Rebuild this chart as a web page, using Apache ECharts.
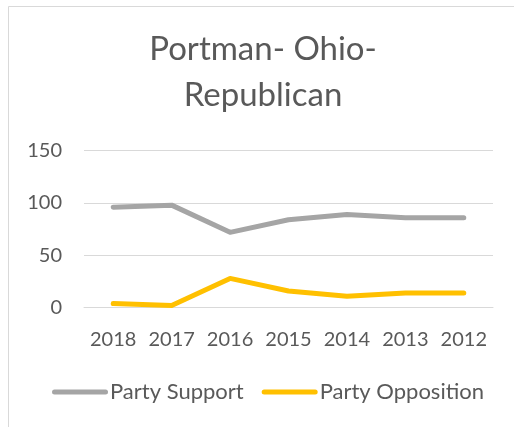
<!DOCTYPE html>
<html>
<head>
<meta charset="utf-8">
<script src="https://cdn.jsdelivr.net/npm/echarts@6/dist/echarts.min.js"></script>
<style>
  html, body { margin: 0; padding: 0; background: #fff; }
  #chart { width: 514px; height: 427px; }
</style>
</head>
<body>
<div id="chart"></div>
<script>
// Vote counts per year
const years = ['2018', '2017', '2016', '2015', '2014', '2013', '2012'];
const partySupport = [96, 98, 72, 84, 89, 86, 86];
const partyOpposition = [4, 2, 28, 16, 11, 14, 14];
const yTicks = { min: 0, max: 150, interval: 50 };

const textColor = '#595959';
const fontFamily = 'Lato, "Open Sans", sans-serif';

const chart = echarts.init(document.getElementById('chart'), null, { renderer: 'canvas' });

// rounded bar used as the legend swatch
const legendIcon = 'path://M2.5,0 H53.5 A2.5,2.5 0 0 1 53.5,5 H2.5 A2.5,2.5 0 0 1 2.5,0 Z';

chart.setOption({
  animation: false,
  backgroundColor: '#ffffff',
  graphic: [{
    type: 'rect',
    shape: { x: 8.5, y: 6.5, width: 1000, height: 1000 },
    style: { fill: 'none', stroke: '#D9D9D9', lineWidth: 1 },
    silent: true
  }],
  title: {
    text: 'Portman- Ohio-\nRepublican',
    left: 263,
    textAlign: 'center',
    top: 26,
    padding: 0,
    textStyle: {
      color: textColor,
      fontFamily: fontFamily,
      fontSize: 33,
      fontWeight: 'normal',
      lineHeight: 46
    }
  },
  legend: {
    top: 381,
    left: 52,
    padding: 0,
    itemWidth: 56,
    itemHeight: 5,
    itemGap: 18,
    textStyle: { color: textColor, fontFamily: fontFamily, fontSize: 22, padding: [0, 0, 0, -3] },
    data: [
      { name: 'Party Support', icon: legendIcon },
      { name: 'Party Opposition', icon: legendIcon }
    ]
  },
  grid: { left: 84, right: 21, top: 150.7, bottom: 119.3, containLabel: false },
  xAxis: {
    type: 'category',
    data: years,
    boundaryGap: true,
    axisLine: { show: true, lineStyle: { color: '#D9D9D9', width: 1 } },
    axisTick: { show: false },
    axisLabel: { color: textColor, fontFamily: fontFamily, fontSize: 20, margin: 22, interval: 0 }
  },
  yAxis: {
    type: 'value',
    min: yTicks.min,
    max: yTicks.max,
    interval: yTicks.interval,
    axisLine: { show: false },
    axisTick: { show: false },
    splitLine: { lineStyle: { color: '#D9D9D9', width: 1 } },
    axisLabel: { color: textColor, fontFamily: fontFamily, fontSize: 20, margin: 22 }
  },
  series: [
    {
      name: 'Party Support',
      type: 'line',
      data: partySupport,
      symbol: 'none',
      smooth: false,
      color: '#A5A5A5',
      lineStyle: { color: '#A5A5A5', width: 5, cap: 'round', join: 'round' }
    },
    {
      name: 'Party Opposition',
      type: 'line',
      data: partyOpposition,
      symbol: 'none',
      smooth: false,
      color: '#FFC000',
      lineStyle: { color: '#FFC000', width: 5, cap: 'round', join: 'round' }
    }
  ]
});
</script>
</body>
</html>
